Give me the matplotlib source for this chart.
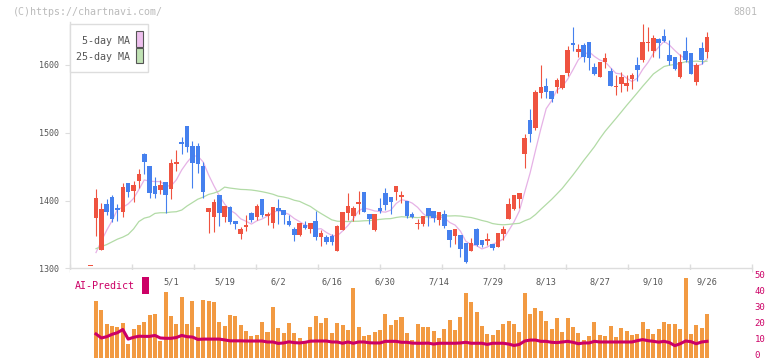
import numpy as np
import pandas as pd
import matplotlib
matplotlib.use('Agg')
import matplotlib.pyplot as plt
from matplotlib.patches import Rectangle
from matplotlib.transforms import blended_transform_factory, ScaledTranslation

# ---------------- data ----------------
holidays = ['2025-04-29', '2025-05-05', '2025-05-06', '2025-07-21',
            '2025-08-11', '2025-09-15', '2025-09-23']
dates = pd.bdate_range('2025-04-10', '2025-09-26', freq='C', holidays=holidays)
date_labels = ['5/1', '5/19', '6/2', '6/16', '6/30', '7/14', '7/29',
               '8/13', '8/27', '9/10', '9/26']

opens = [1374.7, 1327.5, 1394.8, 1405.2, 1389, 1383, 1425.8, 1414, 1428.8, 1469.1,
         1450.9, 1421.4, 1415.5, 1427.3, 1417, 1453.9, 1486.3, 1510, 1480.4, 1480.4,
         1450.9, 1383, 1375.7, 1408.1, 1375.7, 1390.4, 1369.8, 1350.6, 1360.9, 1381.6,
         1375.7, 1402.2, 1377.1, 1366.8, 1389, 1386, 1369.8, 1358, 1349.2, 1363.9,
         1358, 1369.8, 1346.2, 1346.2, 1347.7, 1325.6, 1356.5, 1381.6, 1377.2, 1394.9,
         1412.6, 1380.2, 1356.5, 1389, 1411.1, 1405.2, 1412.6, 1405.2, 1399.3, 1380.2,
         1365.4, 1365.4, 1389, 1384.6, 1371.3, 1380.2, 1356.5, 1347.7, 1349.2, 1337.4,
         1325.6, 1358, 1341.8, 1340.3, 1335.9, 1331.5, 1350.6, 1372.8, 1387.5, 1402.3,
         1468.6, 1518.8, 1507, 1558.6, 1568.9, 1561.6, 1567.5, 1566, 1588.1, 1632.4,
         1619.1, 1629.5, 1633.9, 1597, 1582.2, 1604.4, 1591.1, 1567.5, 1571.9, 1568.9,
         1579.3, 1599.9, 1607.3, 1632.4, 1620.6, 1638.3, 1642.7, 1614.7, 1611.7, 1582.2,
         1620.6, 1617.6, 1574.9, 1625, 1619.1]
highs = [1417, 1396.3, 1402, 1408, 1394.8, 1425.8, 1425.8, 1428.8, 1446.5, 1470.6,
         1450.9, 1434.7, 1430.3, 1427.3, 1461.2, 1474.5, 1493.7, 1510, 1487.8, 1484.9,
         1456.8, 1389, 1402.2, 1408.1, 1391.9, 1391.9, 1369.8, 1360.9, 1378.6, 1383,
         1394.8, 1402.2, 1383, 1390.4, 1402.2, 1386, 1378, 1360.9, 1366.9, 1369.8,
         1366.9, 1384.6, 1356.5, 1349.2, 1350.6, 1363.9, 1383.1, 1411.1, 1392, 1414.1,
         1412.6, 1380.2, 1380.2, 1403.8, 1418.5, 1405.2, 1421.5, 1414.1, 1399.3, 1383.1,
         1372.8, 1377.2, 1389, 1384.6, 1383.1, 1386, 1356.5, 1358, 1349.2, 1337.4,
         1344.7, 1359.5, 1341.8, 1352.1, 1335.9, 1352.1, 1362.4, 1403.8, 1408.2, 1411.1,
         1498.1, 1535, 1563, 1599.9, 1580.7, 1561.6, 1580.7, 1585.2, 1628, 1656,
         1630.9, 1632.4, 1633.9, 1602.9, 1604.4, 1617.6, 1595.5, 1585.2, 1589.6, 1585.2,
         1588.1, 1611.7, 1660.4, 1656, 1644.2, 1639.8, 1653, 1636.8, 1611.7, 1616.2,
         1641.3, 1617.6, 1602.9, 1633.9, 1648.6]
lows = [1348, 1327, 1378.6, 1368.8, 1370.3, 1375.7, 1405.7, 1397.8, 1418.5, 1439.1,
        1403.7, 1403.7, 1409.6, 1381.6, 1402.2, 1443.5, 1468.6, 1471.6, 1418.5, 1440.6,
        1403.7, 1352, 1353.5, 1362.4, 1368.3, 1365.3, 1358, 1343.2, 1355, 1368.3,
        1371.2, 1375.7, 1363.9, 1359.4, 1365.3, 1366, 1362.4, 1340.2, 1347.7, 1358,
        1352.1, 1341.8, 1332.9, 1335.9, 1334.4, 1325.6, 1356.5, 1371.3, 1369.8, 1380.2,
        1383.1, 1365.4, 1355.1, 1381.6, 1386, 1380.2, 1400.8, 1396.4, 1374.2, 1374.2,
        1358, 1362.4, 1362.4, 1368.4, 1363.9, 1359.5, 1331.5, 1335.9, 1316.7, 1307.8,
        1325.6, 1332.9, 1331.5, 1334.4, 1327, 1331.5, 1341.8, 1372.8, 1386, 1389,
        1447.9, 1486.3, 1504, 1551.2, 1551.2, 1545.3, 1558.6, 1564.5, 1583.7, 1620.6,
        1611.7, 1604.4, 1592.6, 1585.2, 1582.2, 1595.5, 1568.9, 1555.7, 1560.1, 1561.6,
        1564.5, 1576.3, 1604.4, 1620.6, 1611.7, 1610.3, 1633.9, 1599.9, 1592.6, 1580.7,
        1604.4, 1586.7, 1570.4, 1601.4, 1610.3]
closes = [1403.7, 1387.5, 1383, 1373.2, 1386, 1419.9, 1413, 1422.9, 1439.1, 1456.8,
          1411, 1409.6, 1422.9, 1408.1, 1455.3, 1456.8, 1483.4, 1479, 1455.3, 1453.9,
          1412.5, 1389, 1397.8, 1381.6, 1391.9, 1368.3, 1365.3, 1358, 1363.9, 1371.2,
          1391.9, 1378.6, 1380.1, 1390.4, 1384.5, 1378.6, 1363.9, 1349.1, 1366.9, 1359.5,
          1366.9, 1346.2, 1352.1, 1338.8, 1338.8, 1362.4, 1383.1, 1392, 1389, 1397.9,
          1383.1, 1372.8, 1380.2, 1384.6, 1393.4, 1397.9, 1421.5, 1408.2, 1377.2, 1375.7,
          1366.9, 1377.2, 1377.2, 1374.2, 1383.1, 1362.4, 1341.8, 1358, 1328.5, 1309.3,
          1337.4, 1334.4, 1334.4, 1343.3, 1330, 1352.1, 1358, 1394.9, 1408.2, 1411.1,
          1492.2, 1498.1, 1560.1, 1567.5, 1560.1, 1549.8, 1577.8, 1585.2, 1622.1, 1629.5,
          1623.5, 1611.7, 1610.3, 1586.7, 1604.4, 1610.3, 1568.9, 1568.9, 1582.2, 1573.4,
          1585.2, 1592.6, 1633.9, 1633.9, 1639.8, 1632.4, 1635.4, 1605.8, 1594, 1604.4,
          1607.3, 1586.7, 1599.9, 1607.3, 1641.3]
ma5 = [1323.2, 1340.2, 1356.2, 1370.2, 1386.8, 1390, 1395, 1403, 1416.2, 1430.4,
       1428.6, 1428, 1428, 1421.8, 1421.4, 1430.6, 1445.2, 1456.4, 1465.8, 1465.6,
       1456.8, 1438, 1421.8, 1407.2, 1394.8, 1385.8, 1381, 1373, 1369.4, 1365.2,
       1370, 1372.8, 1377.2, 1382.4, 1385.2, 1382.6, 1379.6, 1373.4, 1368.8, 1363.8,
       1361.4, 1357.8, 1358.4, 1352.8, 1348.6, 1347.6, 1355, 1363, 1373, 1384.8,
       1389, 1387, 1384.6, 1383.8, 1382.8, 1385.8, 1395.6, 1401.2, 1399.6, 1396.2,
       1390, 1381, 1374.8, 1374.2, 1375.6, 1374.6, 1367.6, 1363.8, 1354.8, 1340,
       1335, 1333.4, 1328.6, 1331.4, 1335.6, 1338.6, 1343.4, 1355.6, 1368.6, 1384.8,
       1412.8, 1440.8, 1473.8, 1505.8, 1535.6, 1547.2, 1563.2, 1568.2, 1579, 1593,
       1607.8, 1614.6, 1619.6, 1612.6, 1607.4, 1604.6, 1596, 1587.8, 1586.8, 1580.6,
       1575.6, 1580.4, 1593.4, 1603.8, 1617.2, 1626.6, 1635, 1629.4, 1621.4, 1614.2,
       1609.2, 1599.6, 1598.4, 1601, 1608.4]
ma25 = [1329, 1332, 1335, 1339, 1343, 1346, 1350, 1358, 1369, 1374,
        1376, 1381, 1382, 1382, 1383, 1383.5, 1386, 1392, 1397, 1402,
        1405, 1409, 1411, 1414, 1419.8, 1418.4, 1417.4, 1416.4, 1416.1, 1415.5,
        1414.4, 1413.0, 1411.3, 1409.3, 1406.4, 1405.2, 1403.3, 1400.4, 1398.7, 1394.9,
        1391.3, 1385.8, 1380.8, 1376.1, 1371.5, 1369.5, 1369.2, 1369.0, 1369.3, 1369.5,
        1370.1, 1370.4, 1371.3, 1372.2, 1373.0, 1373.3, 1375.0, 1376.1, 1375.6, 1375.2,
        1374.8, 1375.3, 1376.4, 1376.7, 1377.6, 1377.4, 1377.2, 1377.5, 1377.1, 1375.9,
        1374.9, 1372.9, 1370.6, 1368.8, 1366.0, 1364.8, 1364.2, 1364.8, 1365.7, 1366.4,
        1370.2, 1373.2, 1379.3, 1387.0, 1394.3, 1401.6, 1409.7, 1418.0, 1427.9, 1437.8,
        1448.3, 1459.1, 1469.2, 1479.5, 1491.3, 1502.2, 1511.6, 1521.0, 1530.6, 1540.3,
        1549.6, 1559.0, 1568.6, 1577.6, 1586.8, 1592.4, 1597.8, 1599.7, 1600.7, 1602.5,
        1604.8, 1605.1, 1605.7, 1605.1, 1605.6]
volume = [35.3, 29.7, 20.9, 19.7, 19.1, 21.6, 8.4, 17.8, 20.3, 22.2,
          26.6, 27.2, 10.3, 40.9, 25.9, 20.9, 37.8, 20.9, 35.3, 19.1,
          35.9, 35.3, 34.7, 22.2, 19.7, 26.6, 25.9, 20.3, 16.6, 13.4,
          14.1, 22.2, 15.9, 31.6, 18.4, 15.3, 21.6, 15.3, 12.2, 10.3,
          19.1, 25.9, 21.6, 24.7, 15.3, 21.6, 20.3, 17.2, 43.4, 19.1,
          13.4, 14.1, 15.9, 17.2, 27.2, 20.3, 23.4, 25.3, 15.3, 10.9,
          20.9, 19.1, 19.1, 16.6, 12.2, 17.8, 23.4, 17.2, 25.3, 40.3,
          34.7, 28.4, 19.7, 14.7, 14.1, 17.2, 20.9, 22.8, 20.9, 15.9,
          40.3, 27.2, 30.9, 29.1, 22.8, 17.8, 24.7, 15.9, 24.7, 19.1,
          15.3, 10.9, 13.4, 22.2, 14.1, 13.4, 19.7, 12.8, 18.4, 16.6,
          14.1, 14.7, 22.2, 17.8, 14.7, 17.8, 22.2, 20.9, 20.9, 17.8,
          49.5, 14.7, 20.3, 18.4, 27.2]
ai_predict = [14.7, 12.2, 13.0, 14.5, 15.5, 17.5, 11.5, 12.6, 13.3, 13.2,
              13.2, 13.8, 12.2, 12.0, 12.0, 12.5, 13.8, 13.0, 12.8, 11.3,
              11.5, 11.5, 11.5, 11.5, 11.0, 10.4, 10.4, 10.4, 10.3, 10.3,
              10.3, 10.3, 9.7, 9.7, 8.8, 9.1, 9.8, 9.3, 9.1, 9.5,
              10.2, 10.3, 10.3, 10.3, 9.7, 9.7, 8.9, 9.7, 8.9, 9.7,
              9.7, 9.2, 9.1, 9.1, 10.1, 10.1, 10.1, 9.5, 9.5, 9.0,
              8.9, 8.9, 9.0, 8.4, 8.9, 8.9, 8.9, 8.9, 9.1, 9.5,
              8.9, 8.9, 8.9, 8.2, 8.9, 8.9, 8.9, 8.4, 7.5, 8.2,
              10.3, 10.9, 10.9, 10.1, 10.1, 9.5, 9.3, 9.7, 10.1, 9.5,
              8.6, 9.1, 9.1, 10.1, 9.7, 9.7, 9.7, 9.7, 9.7, 9.7,
              9.7, 10.5, 11.2, 10.5, 10.1, 9.6, 10.1, 9.3, 7.4, 8.6,
              10.3, 9.9, 8.6, 9.7, 10.1]
prev_day_price = 1304   # lone tick on the day before the first candle
price_ticks = [1300, 1400, 1500, 1600]
vol_ticks = [0, 10, 20, 30, 40, 50]

# ---------------- style ----------------
RED = '#EF5340'
BLUE = '#4580EE'
ORANGE = '#F29A42'
CRIMSON = '#CC0066'
PINK = '#E6B2E6'
GREEN = '#B2DBA6'
GRID = '#DDDDDD'
TXT = '#555555'
MONO = 'DejaVu Sans Mono'
plt.rcParams['font.family'] = [MONO, 'DejaVu Sans']

W, H = 772, 361
fig = plt.figure(figsize=(W / 100, H / 100), dpi=100)

# pixel geometry of the reference
px_per_price = 0.6777
px_per_slot = 5.3596
x_first = 96.0
ax_left, ax_right = 70, 752
top1, bot1 = 22, 268.3
top2, bot2 = 270, 357.5
px_per_vol = 1.6

xlim = ((ax_left - x_first) / px_per_slot, (ax_right - x_first) / px_per_slot)

ax1 = fig.add_axes([ax_left / W, (H - bot1) / H, (ax_right - ax_left) / W, (bot1 - top1) / H])
ax2 = fig.add_axes([ax_left / W, (H - bot2) / H, (ax_right - ax_left) / W, (bot2 - top2) / H])

o = np.array(opens); h = np.array(highs); l = np.array(lows); c = np.array(closes)
x = np.arange(len(c))
up = c >= o
cols = np.where(up, RED, BLUE)

ax1.plot(x, ma5, color=PINK, lw=0.9, zorder=1)
ax1.plot(x, ma25, color=GREEN, lw=0.9, zorder=1)
ax1.vlines(x, l, h, colors=cols, lw=0.8, zorder=2)
body_h = np.maximum(np.abs(c - o), 1.6)
mid = (c + o) / 2
ax1.bar(x, body_h, bottom=mid - body_h / 2, width=0.85, color=cols, lw=0, zorder=3)
ax1.bar([-1], [1.6], bottom=[prev_day_price - 0.8], width=0.9, color=RED, lw=0, zorder=3)

ax1.set_xlim(*xlim)
ax1.set_ylim(1300, 1300 + (bot1 - top1) / px_per_price)
for s in ['top', 'right']:
    ax1.spines[s].set_visible(False)
for s in ['left', 'bottom']:
    ax1.spines[s].set_color(GRID)
    ax1.spines[s].set_linewidth(1.0)
ax1.set_yticks(price_ticks)
ax1.set_yticklabels([str(t) for t in price_ticks])
ax1.tick_params(axis='y', length=3.6, color=GRID, pad=4.3, labelsize=6, labelcolor=TXT)
ax1.set_xticks(np.linspace(xlim[0], xlim[1], 12))
ax1.set_xticklabels([])
ax1.tick_params(axis='x', direction='inout', length=5.8, color=GRID, width=1.0)

# lower panel
ax2.bar(x, volume, width=0.75, color=ORANGE, lw=0, zorder=1)
ax2.plot(x, ai_predict, color=CRIMSON, lw=2.2, zorder=2, solid_joinstyle='round')
ax2.set_xlim(*xlim)
ax2.set_ylim(0, (bot2 - top2) / px_per_vol)
for s in ax2.spines.values():
    s.set_visible(False)
ax2.set_xticks([])
ax2.yaxis.tick_right()
ax2.set_yticks(vol_ticks)
ax2.set_yticklabels([str(t) for t in vol_ticks])
ax2.tick_params(axis='y', length=0, pad=2, labelsize=6.5, labelcolor=CRIMSON)
shift_up = ScaledTranslation(0, 2.2 / 100, fig.dpi_scale_trans)
for lab in ax2.get_yticklabels():
    lab.set_va('center')
    lab.set_transform(lab.get_transform() + shift_up)

tr = blended_transform_factory(ax2.transData, ax2.transAxes)
fmt = [f'{d.month}/{d.day}' for d in dates]
yfrac = 1 - (282 - top2) / (bot2 - top2)
for lab in date_labels:
    i = fmt.index(lab)
    ax2.text(i, yfrac, lab, transform=tr, ha='center', va='center',
             fontsize=6.2, color=TXT)

# annotations
fig.text(75 / W, 1 - 286 / H, 'AI-Predict', color=CRIMSON, fontsize=7.2,
         ha='left', va='center')
fig.patches.append(Rectangle((142 / W, 1 - 293.5 / H), 7 / W, 16.5 / H,
                             transform=fig.transFigure, color=CRIMSON, lw=0))
fig.text(13 / W, 1 - 12 / H, '(C)https://chartnavi.com/', color='#BBBBBB',
         fontsize=7.2, ha='left', va='center')
fig.text(757 / W, 1 - 12 / H, '8801', color='#BBBBBB', fontsize=7.2,
         ha='right', va='center')

# legend box
fig.patches.append(Rectangle((70 / W, 1 - 72 / H), 78 / W, 48 / H, transform=fig.transFigure,
                             facecolor='white', edgecolor=GRID, lw=1.0, zorder=4))
fig.text(130 / W, 1 - 40.5 / H, '5-day MA', color=TXT, fontsize=7.2, ha='right',
         va='center', zorder=5)
fig.text(130 / W, 1 - 56.5 / H, '25-day MA', color=TXT, fontsize=7.2, ha='right',
         va='center', zorder=5)
fig.patches.append(Rectangle((136 / W, 1 - 46.7 / H), 7 / W, 15.5 / H, transform=fig.transFigure,
                             facecolor='#EEC0EE', edgecolor='#555555', lw=0.8, zorder=5))
fig.patches.append(Rectangle((136 / W, 1 - 63.3 / H), 7 / W, 15.0 / H, transform=fig.transFigure,
                             facecolor='#C0E2B4', edgecolor='#555555', lw=0.8, zorder=5))

fig.savefig('out.png', dpi=100)
